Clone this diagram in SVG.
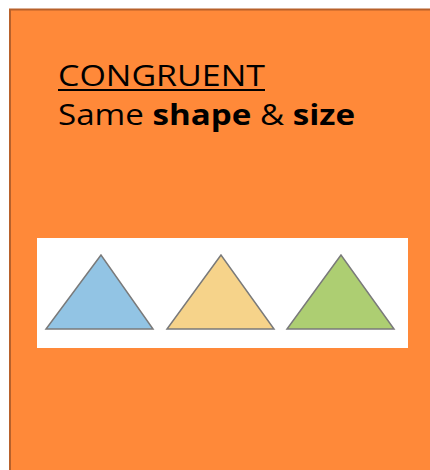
<svg xmlns="http://www.w3.org/2000/svg" width="430" height="470" viewBox="0 0 430 470">
<style>
.t{font-family:"Open Sans","DejaVu Sans",sans-serif;font-size:29px;fill:#000}
.tri{stroke:#7a7a7a;stroke-width:1.5;stroke-linejoin:miter}
</style>
<rect x="0" y="0" width="430" height="470" fill="#ffffff"/>
<g id="panel">
<rect x="10" y="9.5" width="430" height="470" fill="#FF8939" stroke="#B8612B" stroke-width="2"/>
</g>
<g id="title">
<text class="t" x="58" y="86" textLength="207" lengthAdjust="spacingAndGlyphs">CONGRUENT</text>
<rect x="58" y="89" width="207" height="2" fill="#000"/>
<text class="t" x="58" y="125" textLength="297" lengthAdjust="spacingAndGlyphs">Same <tspan font-weight="bold">shape</tspan> &amp; <tspan font-weight="bold">size</tspan></text>
</g>
<g id="strip">
<rect x="37" y="238" width="371" height="110" fill="#ffffff"/>
</g>
<g id="blue"><polygon class="tri" points="101,255 46,329 153,329" fill="#92C4E4"/></g>
<g id="yellow"><polygon class="tri" points="221,255 167,329 274,329" fill="#F6D38A"/></g>
<g id="green"><polygon class="tri" points="341,255 287,329 394,329" fill="#ADCE72"/></g>
<g id="connectors"></g>
</svg>
